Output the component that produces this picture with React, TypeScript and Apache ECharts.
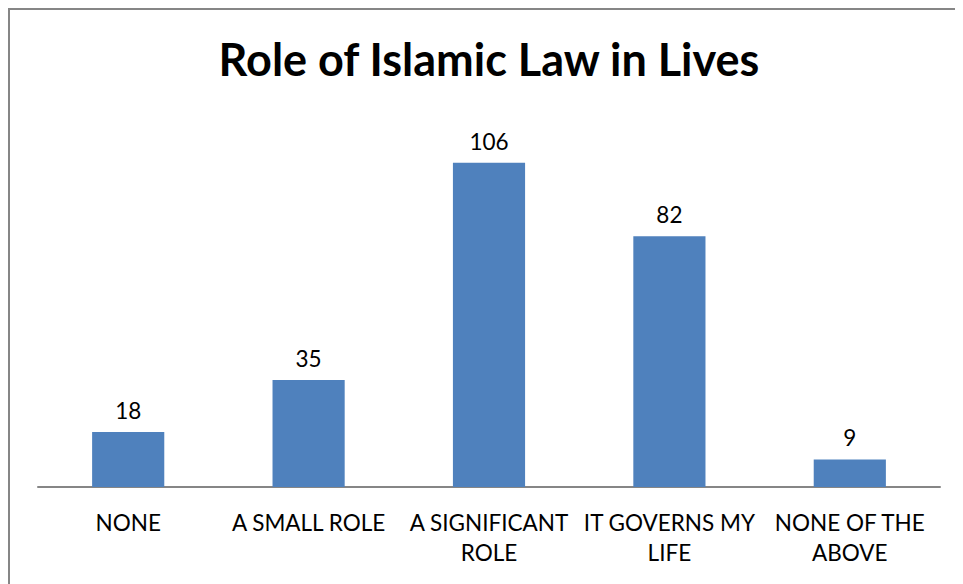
import React, { useEffect, useRef } from "react";
import * as echarts from "echarts";

const titleText = "Role of Islamic Law in Lives";
const categories = ["NONE", "A SMALL ROLE", "A SIGNIFICANT\nROLE", "IT GOVERNS MY\nLIFE", "NONE OF THE\nABOVE"];
const values = [18, 35, 106, 82, 9];
const FONT = "Lato, 'Noto Sans', sans-serif";

export default function App() {
  const ref = useRef<HTMLDivElement>(null);
  useEffect(() => {
    document.documentElement.style.overflow = "hidden";
    document.body.style.overflow = "hidden";
    const chart = echarts.init(ref.current!, null, { renderer: "svg" });
    chart.setOption({
      animation: false,
      backgroundColor: "#ffffff",
      title: {
        text: titleText,
        left: "center",
        top: 21,
        textStyle: { fontFamily: FONT, fontSize: 45, fontWeight: "bold", color: "#000" },
      },
      grid: { left: 28, right: 28, top: 110, bottom: 123, containLabel: false },
      xAxis: {
        type: "category",
        data: categories,
        axisLine: { lineStyle: { color: "#868686", width: 2 } },
        axisTick: { show: false },
        axisLabel: {
          interval: 0,
          margin: 20,
          fontFamily: FONT,
          fontSize: 22.5,
          lineHeight: 30,
          color: "#000",
        },
      },
      yAxis: {
        type: "value",
        min: 0,
        max: 120,
        show: false,
        splitLine: { show: false },
      },
      series: [
        {
          type: "bar",
          data: values,
          barWidth: "40%",
          itemStyle: { color: "#4F81BD" },
          label: {
            show: true,
            position: "top",
            distance: 10,
            fontFamily: FONT,
            fontSize: 22.5,
            color: "#000",
          },
        },
      ],
    });
    return () => chart.dispose();
  }, []);
  return (
    <div style={{ border: "2px solid #868686", width: 1020, height: 620, background: "#fff" }}>
      <div ref={ref} style={{ width: 958, height: 600 }} />
    </div>
  );
}
